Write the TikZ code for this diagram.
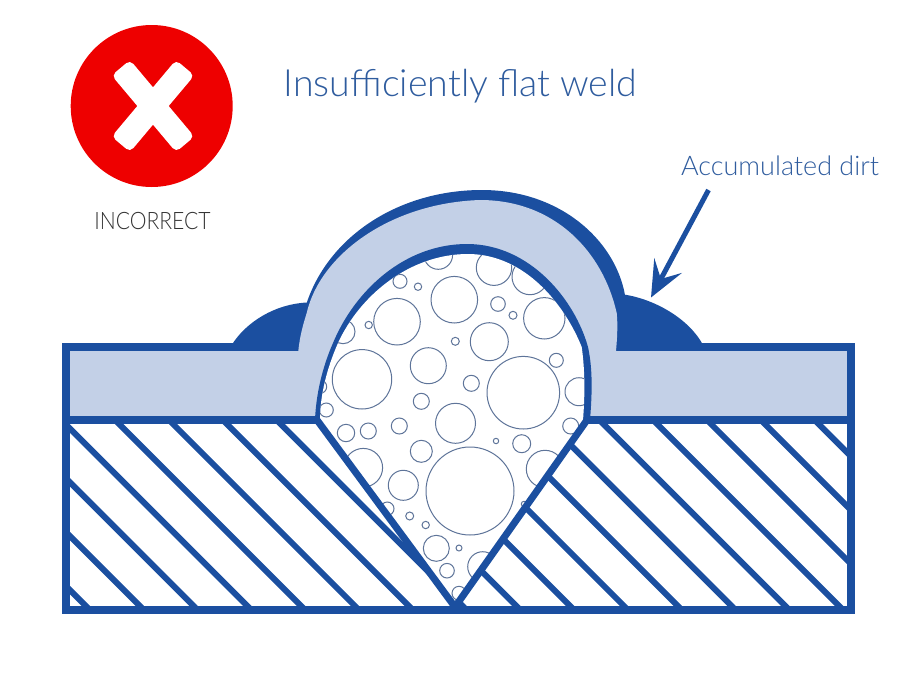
\documentclass[tikz,border=0pt]{standalone}
\usepackage{fontspec}
\setmainfont{Lato Light}
\usetikzlibrary{arrows.meta}
\definecolor{mblue}{HTML}{1B4FA0}
\definecolor{mlight}{HTML}{C3D0E7}
\definecolor{mbubble}{HTML}{5E7499}
\definecolor{mred}{HTML}{EE0000}
\definecolor{mtext}{HTML}{2F5C9E}
\tikzset{hatch/.style = {mblue, line width = 6}}
\tikzset{wall/.style = {mblue, line width = 8}}
\tikzset{bubble/.style = {mbubble, line width = 1}}
\tikzset{crossbar/.style = {fill = white, rounded corners = 5, inner sep = 0,
                            minimum width = 100, minimum height = 24}}
\def\innerdrop{(320,420) .. controls (320,395) and (327,368) .. (338,343)
  .. controls (360,295) and (410,254) .. (468,254)
  .. controls (525,254) and (565,305) .. (581.7,347)
  .. controls (585,370) and (585,395) .. (583,420) -- (455,606) -- cycle}
\begin{document}
\begin{tikzpicture}[x=1pt, y=-1pt]
  \useasboundingbox (0,0) rectangle (920,675);
  % badge
  \fill [mred] (151.7,106) circle (81);
  \node [crossbar, rotate = 50] (crossa) at (153,106) {};
  \node [crossbar, rotate = -50] (crossb) at (153,106) {};
  \node [color = black!80, font = \fontsize{24}{24}\selectfont] (verdict) at (152.5,221) {\scalebox{.88}[1]{INCORRECT}};
  \node [color = mtext, font = \fontsize{37.5}{37.5}\selectfont] (title) at (460.5,86) {Insufficiently flat weld};
  \node [color = mtext, font = \fontsize{27}{27}\selectfont] (dirtlabel) at (780,166) {Accumulated dirt};
  % dirt
  \fill [mblue] (231.7,351) -- (231.7,345) .. controls (246,322) and (275,304) .. (307,302.5) -- (307,351) -- cycle;
  \fill [mblue] (620,294) .. controls (655,298) and (690,320) .. (703,345) -- (703,351) -- (620,351) -- cycle;
  % plate and cover
  \fill [mblue] (296,351) .. controls (298,330) and (303,315) .. (307,302)
    .. controls (330,235) and (400,190) .. (482,190)
    .. controls (560,190) and (615,240) .. (625,295) -- (621,351) -- cycle;
  \fill [mlight] (66,347) rectangle (850,420);
  \draw [wall] (62,347) -- (298.5,347);
  \draw [wall] (616,347) -- (854.5,347);
  \fill [mlight] (298.3,351) .. controls (300,335) and (303,325) .. (306.7,313)
    .. controls (320,255) and (390,203) .. (480,200)
    .. controls (555,200) and (603,252) .. (616.7,313)
    .. controls (618,325) and (617,340) .. (616,351) -- cycle;
  % hatching
  \begin{scope}
    \clip (66,420) -- (317,420) -- (455,610) -- (850,610) -- (850,420) -- (587,420) -- (455,610) -- (66,610) -- cycle;
    \foreach \x in {88,141.8,...,1010}{
      \draw [hatch] (\x,608) -- (\x-200,408);
    }
  \end{scope}
  % weld
  \fill [mblue] (315,420) .. controls (316,395) and (322,368) .. (333,343)
    .. controls (355,290) and (405,244) .. (467,244)
    .. controls (530,244) and (575,300) .. (588,347)
    .. controls (593,370) and (592,395) .. (590,420) -- cycle;
  \fill [white] \innerdrop;
  \begin{scope}
    \clip \innerdrop;
    \foreach \x/\y/\r in {438.3/255/14.3, 494/267.7/17.7, 530/276.7/18, 400/281.3/7, 418/286.7/3.7,
      454.3/299.7/23.3, 498/304/7.3, 513/315.3/4, 544.3/318.3/20.7, 397/321.7/23.3,
      368.7/325/3.7, 343/331.7/12, 455.3/341.3/4, 489.3/341.7/19, 428.3/365.7/18,
      362/379.3/29.7, 556.3/360.3/7, 523.3/392.7/36.3, 471.3/383.3/8, 579/391.7/14,
      421.3/401.3/8, 326.3/410/7, 320/386.7/6.7, 455.5/423.3/20, 570.7/426/8,
      346/433/8.7, 368.3/431/8, 399.3/426/8, 496/441/2.7, 521.7/443.7/9, 421.3/451.3/11,
      363.3/467.7/19.3, 545/469/18.7, 403.3/485.3/15, 470/491/44, 387.3/508.7/6.7,
      524/504/2.7, 409.7/516/4, 425.7/525/3.7, 436.3/548.3/13, 459/548/3,
      447/570.7/7.3, 482.7/566.7/15, 459/593.3/7}{
      \draw [bubble] (\x,\y) circle (\r);
    }
  \end{scope}
  % frame
  \draw [wall] (66,343) -- (66,610) -- (850.5,610) -- (850.5,343);
  \draw [wall] (62,420) -- (318,420);
  \draw [wall] (586,420) -- (854,420);
  \draw [wall, line width = 7, line join = miter] (317,420) -- (455,607) -- (587,420);
  % pointer
  \coordinate (dirttip) at (651,297.5);
  \coordinate (dirttail) at (708.5,190);
  \draw [mblue, line width = 5, -{Stealth[length = 36, width = 31, inset = 15]}] (dirttail) -- (dirttip);
\end{tikzpicture}
\end{document}
